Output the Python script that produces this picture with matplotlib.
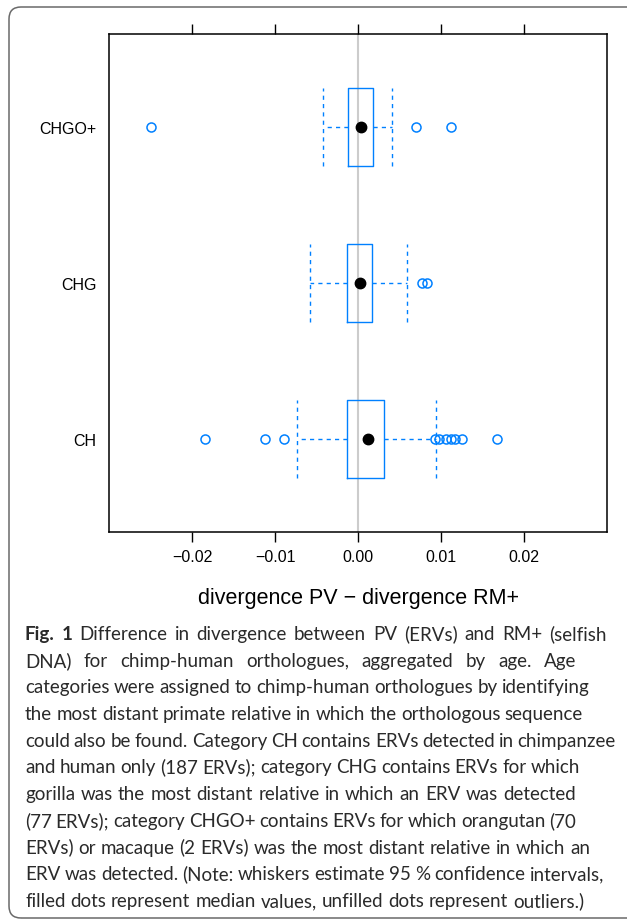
import matplotlib
matplotlib.use("Agg")
import matplotlib.pyplot as plt
from matplotlib.patches import FancyBboxPatch
from matplotlib.transforms import IdentityTransform

# box statistics (divergence PV - divergence RM+)
categories = ["CH", "CHG", "CHGO+"]
q1 = [-0.00128, -0.00131, -0.00119]
medians = [0.00125, 0.00020, 0.00037]
q3 = [0.00310, 0.00173, 0.00182]
whisker_lo = [-0.00734, -0.00573, -0.00420]
whisker_hi = [0.00945, 0.00587, 0.00414]
outliers = [
    [-0.01839, -0.01116, -0.00887, 0.00930, 0.00970, 0.01060, 0.01120, 0.01170, 0.01250, 0.01676],
    [0.00772, 0.00832],
    [-0.02500, 0.00700, 0.01125],
]
xticks = [-0.02, -0.01, 0.0, 0.01, 0.02]
xticklabels = ["\u22120.02", "\u22120.01", "0.00", "0.01", "0.02"]

caption = [
    "Difference in divergence between PV (ERVs) and RM+ (selfish",
    "DNA) for chimp-human orthologues, aggregated by age. Age",
    "categories were assigned to chimp-human orthologues by identifying",
    "the most distant primate relative in which the orthologous sequence",
    "could also be found. Category CH contains ERVs detected in chimpanzee",
    "and human only (187 ERVs); category CHG contains ERVs for which",
    "gorilla was the most distant relative in which an ERV was detected",
    "(77 ERVs); category CHGO+ contains ERVs for which orangutan (70",
    "ERVs) or macaque (2 ERVs) was the most distant relative in which an",
    "ERV was detected. (Note: whiskers estimate 95 % confidence intervals,",
    "filled dots represent median values, unfilled dots represent outliers.)",
]
# right end (pixels) of each caption line in the original
caption_right = [607, 576, 590, 583, 616, 580, 576, 576, 590, 604, 584]

W, H = 627, 920
blue = "#0080ff"

fig = plt.figure(figsize=(W / 100, H / 100), dpi=100)
plt.rcParams["font.family"] = ["Liberation Sans", "DejaVu Sans"]

ax = fig.add_axes([109 / W, 1 - 533 / H, 498 / W, 498 / H])

stats = []
for i in range(len(categories)):
    stats.append(dict(q1=q1[i], med=medians[i], q3=q3[i],
                      whislo=whisker_lo[i], whishi=whisker_hi[i],
                      fliers=outliers[i], label=categories[i]))

ax.axvline(0, color="#cccccc", lw=1.5, zorder=0)
ax.bxp(stats, positions=[1, 2, 3], orientation="horizontal", widths=0.5,
       capwidths=0.5, patch_artist=False,
       boxprops=dict(color=blue, lw=1.0),
       whiskerprops=dict(color=blue, lw=1.0, linestyle=(0, (3, 3))),
       capprops=dict(color=blue, lw=1.0, linestyle=(0, (3, 3))),
       medianprops=dict(linestyle="none"),
       flierprops=dict(marker="o", markerfacecolor="none", markeredgecolor=blue,
                       markersize=6.5, markeredgewidth=1.1))
ax.plot(medians, [1, 2, 3], "o", color="black", markersize=7.5, zorder=5)

ax.set_xlim(-0.03, 0.03)
ax.set_ylim(0.4, 3.6)
ax.set_xticks(xticks)
ax.set_xticklabels(xticklabels, fontsize=11.5)
ax.set_yticks([1, 2, 3])
ax.set_yticklabels(categories, fontsize=11.5)
ax.tick_params(axis="x", direction="out", length=7.5, width=1, top=True,
               labeltop=False, pad=5)
ax.tick_params(axis="y", length=0, pad=9)
for s in ax.spines.values():
    s.set_linewidth(1.1)
ax.set_xlabel("divergence PV \u2212 divergence RM+", fontsize=15.5, labelpad=16)

# rounded frame around figure and caption
frame = FancyBboxPatch((9, 1), 640, 911, boxstyle="round,pad=0,rounding_size=12",
                       transform=IdentityTransform(), fill=False,
                       edgecolor="#6a6a6a", lw=1.1)
fig.patches.append(frame)

# caption, word by word, each line spread out to its right end
renderer = fig.canvas.get_renderer()
cap_font = ["Lato", "DejaVu Sans"]
cap_color = "#2a2a2a"
left = 25
min_gap = 3.5

rows = []
for i, line in enumerate(caption):
    parts = []
    if i == 0:
        parts += [("Fig.", "bold"), ("1", "bold")]
    parts += [(w, "normal") for w in line.split(" ")]
    texts = [fig.text(0, 1 - (640 + i * 26.7) / H, w, family=cap_font,
                      fontsize=14, weight=wt, color=cap_color,
                      va="baseline", ha="left") for w, wt in parts]
    rows.append(texts)

# one font size for the whole caption: the largest that fits every line
size = 14.0
while size > 11:
    ok = True
    for i, texts in enumerate(rows):
        for t in texts:
            t.set_fontsize(size)
        widths = [t.get_window_extent(renderer).width for t in texts]
        if sum(widths) + min_gap * (len(texts) - 1) > caption_right[i] - left:
            ok = False
            break
    if ok:
        break
    size -= 0.25

for i, texts in enumerate(rows):
    for t in texts:
        t.set_fontsize(size)
    widths = [t.get_window_extent(renderer).width for t in texts]
    gap = (caption_right[i] - left - sum(widths)) / (len(texts) - 1)
    x = left
    for t, wd in zip(texts, widths):
        t.set_x(x / W)
        x += wd + gap

fig.savefig("out.png", dpi=100)
